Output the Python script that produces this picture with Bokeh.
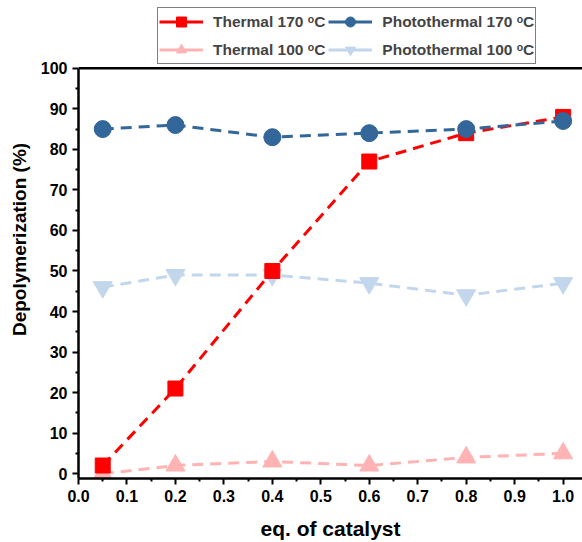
from bokeh.plotting import figure
from bokeh.models import Range1d, Legend, LegendItem, FixedTicker, Span
from bokeh.embed import file_html
from bokeh.resources import INLINE

# Catalyst loading (eq.) and depolymerization yields (%)
eq_catalyst = [0.05, 0.2, 0.4, 0.6, 0.8, 1.0]
thermal_170 = [2, 21, 50, 77, 84, 88]
photothermal_170 = [85, 86, 83, 84, 85, 87]
thermal_100 = [0, 2, 3, 2, 4, 5]
photothermal_100 = [46, 49, 49, 47, 44, 47]

x_ticks = [0.0, 0.1, 0.2, 0.3, 0.4, 0.5, 0.6, 0.7, 0.8, 0.9, 1.0]
y_ticks = [0, 10, 20, 30, 40, 50, 60, 70, 80, 90, 100]

FONT = "Liberation Sans"
DASH = "11 7"
Y_MIN, Y_MAX = -1.2, 100

series = [
    ("Thermal 170 \u1d52C", thermal_170, "#ff0000", "square", 15),
    ("Photothermal 170 \u1d52C", photothermal_170, "#336699", "circle", 17),
    ("Thermal 100 \u1d52C", thermal_100, "#ffb3b3", "triangle", 19),
    ("Photothermal 100 \u1d52C", photothermal_100, "#c2d6ec", "inverted_triangle", 19),
]

# The frame reaches to the top of the page so the legend can sit above the
# data area; the y axis itself is bounded to 0-100.
p = figure(width=582, height=542, output_backend="svg", toolbar_location=None,
           title=None, x_range=Range1d(0, 1.04),
           y_range=Range1d(Y_MIN, 116.73),
           min_border_left=78, min_border_right=0, min_border_top=0,
           min_border_bottom=63)
p.outline_line_color = None
p.xgrid.grid_line_color = None
p.ygrid.grid_line_color = None

# faint series first so the strong ones sit on top
for i in [2, 3, 0, 1]:
    label, ys, color, marker, size = series[i]
    p.line(eq_catalyst, ys, line_color=color, line_width=3, line_dash=DASH)
    p.scatter(eq_catalyst, ys, marker=marker, size=size, fill_color=color,
              line_color=color)

# legend keys: solid line with the marker on top (no points of their own)
keys = {}
for label, ys, color, marker, size in series:
    kl = p.line([float("nan")], [float("nan")], line_color=color, line_width=3)
    ks = p.scatter([float("nan")], [float("nan")], marker=marker, size=size,
                   fill_color=color, line_color=color)
    keys[label] = [kl, ks]

# top edge of the plot box
p.add_layout(Span(location=Y_MAX, dimension="width", line_color="black",
                  line_width=2.5))

for ax in (p.xaxis[0], p.yaxis[0]):
    ax.axis_line_width = 2.5
    ax.axis_line_color = "black"
    ax.major_tick_line_width = 2
    ax.minor_tick_line_width = 2
    ax.major_tick_out = 6
    ax.major_tick_in = 0
    ax.minor_tick_out = 3
    ax.minor_tick_in = 0
    ax.major_label_text_font = FONT
    ax.major_label_text_font_style = "bold"
    ax.major_label_text_font_size = "16px"
    ax.major_label_text_color = "black"
    ax.axis_label_text_font = FONT
    ax.axis_label_text_font_style = "bold"
    ax.axis_label_text_color = "black"

p.yaxis[0].bounds = (Y_MIN, Y_MAX)
p.xaxis[0].axis_label_text_font_size = "21px"
p.yaxis[0].axis_label_text_font_size = "19px"

p.xaxis[0].ticker = FixedTicker(ticks=x_ticks,
                                minor_ticks=[0.05 + 0.1 * k for k in range(10)])
p.yaxis[0].ticker = FixedTicker(ticks=y_ticks,
                                minor_ticks=[5 + 10 * k for k in range(10)])
p.xaxis[0].major_label_overrides = {t: f"{t:.1f}" for t in x_ticks}
p.xaxis[0].axis_label = "eq. of catalyst"
p.yaxis[0].axis_label = "Depolymerization (%)"
p.xaxis[0].axis_label_standoff = 12
p.yaxis[0].axis_label_standoff = 8

# legend entries: thermal series in the first column (column-major fill)
order = [0, 2, 1, 3]
items = [LegendItem(label=series[i][0], renderers=keys[series[i][0]]) for i in order]

legend = Legend(items=items, location=(79, 414), ncols=2,
                label_text_font=FONT, label_text_font_style="bold",
                label_text_font_size="15.5px", glyph_width=44, glyph_height=25,
                label_standoff=10, spacing=3, padding=1, margin=0,
                border_line_color="black", border_line_width=1.5,
                background_fill_alpha=1.0)
p.add_layout(legend, "center")

open("out.html", "w").write(file_html(p, INLINE))
